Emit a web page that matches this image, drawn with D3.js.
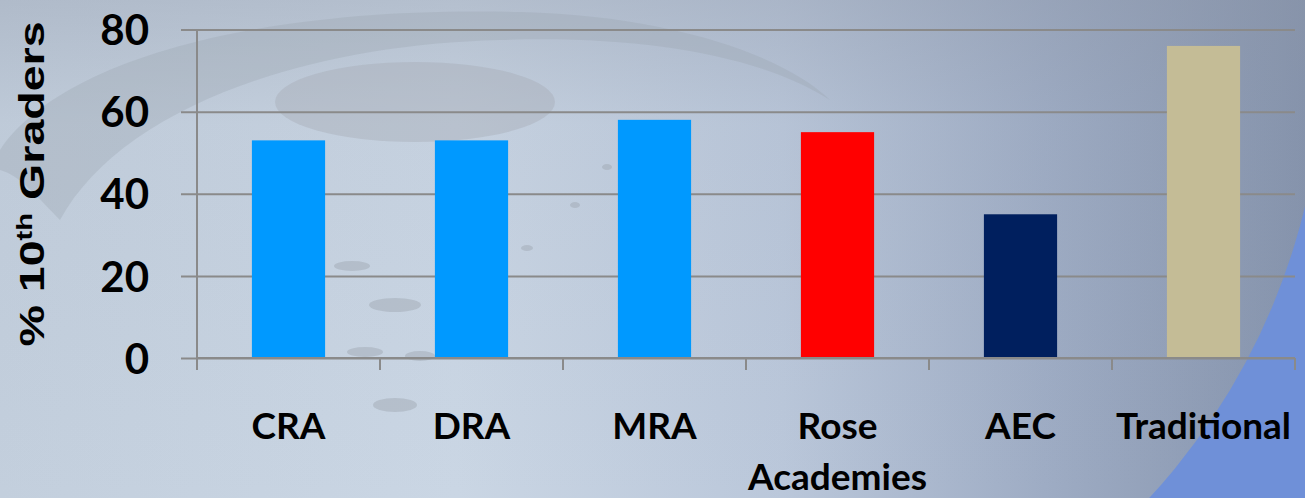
<!DOCTYPE html>
<html>
<head>
<meta charset="utf-8">
<script src="https://cdn.jsdelivr.net/npm/d3@7"></script>
<style>
  html, body { margin: 0; padding: 0; background: #c4cfdd; }
  svg { display: block; }
</style>
</head>
<body>
<div id="chart"></div>
<script>
// ---- data ----
const categories = ["CRA", "DRA", "MRA", "Rose Academies", "AEC", "Traditional"];
const values = [53, 53, 58, 55, 35, 76];
const barColors = ["#0099ff", "#0099ff", "#0099ff", "#ff0000", "#001f5e", "#c4bc96"];
const yTicks = [0, 20, 40, 60, 80];
const yTitle = ["% 10", "th", " Graders"];

// ---- layout ----
const W = 1305, H = 498;
const plot = { left: 197, right: 1295, top: 29.5, bottom: 358 };

const svg = d3.select("#chart").append("svg")
  .attr("width", W).attr("height", H);

// background
const defs = svg.append("defs");
const g1 = defs.append("linearGradient").attr("id", "bg").attr("x1", "0").attr("x2", "1").attr("y1", "0").attr("y2", "0");
[["0%", "#c3cfdd"], ["35%", "#cad6e4"], ["60%", "#bac7da"], ["80%", "#9eacc4"], ["100%", "#8593ac"]]
  .forEach(([o, c]) => g1.append("stop").attr("offset", o).attr("stop-color", c));
const g2 = defs.append("linearGradient").attr("id", "topshade").attr("x1", "0").attr("x2", "0").attr("y1", "0").attr("y2", "1");
[["0%", "#8c95a6", 0.35], ["25%", "#8c95a6", 0.08], ["100%", "#8c95a6", 0]]
  .forEach(([o, c, a]) => g2.append("stop").attr("offset", o).attr("stop-color", c).attr("stop-opacity", a));
defs.append("clipPath").attr("id", "brclip").append("rect")
  .attr("x", 1000).attr("y", 150).attr("width", 305).attr("height", 348);

svg.append("rect").attr("width", W).attr("height", H).attr("fill", "url(#bg)");
svg.append("rect").attr("width", W).attr("height", H).attr("fill", "url(#topshade)");
// blue region outside the slide's large circle (bottom right)
const cx0 = 669, cy0 = 54, r0 = 654;
svg.append("path")
  .attr("clip-path", "url(#brclip)")
  .attr("fill-rule", "evenodd")
  .attr("fill", "#6f90d8")
  .attr("d", `M0,0H${W}V${H}H0Z M${cx0 - r0},${cy0} a${r0},${r0} 0 1,0 ${2 * r0},0 a${r0},${r0} 0 1,0 ${-2 * r0},0Z`);

// faint decorative shapes of the slide background
const deco = svg.append("g");
deco.append("path")
  .attr("d", "M0,150 C60,60 260,5 520,12 C680,16 790,60 830,100 C760,55 640,35 500,40 C300,45 120,110 60,220 C40,200 20,175 0,170 Z")
  .attr("fill", "#98a1ad").attr("opacity", 0.3);
deco.append("ellipse").attr("cx", 415).attr("cy", 102).attr("rx", 140).attr("ry", 40)
  .attr("fill", "#a4abb4").attr("opacity", 0.4);
[[352, 266, 18, 5], [395, 305, 26, 7], [365, 352, 18, 5], [420, 356, 15, 5], [395, 405, 22, 7], [527, 248, 6, 3], [575, 205, 5, 3], [607, 167, 5, 3]]
  .forEach(([cx, cy, rx, ry]) => deco.append("ellipse").attr("cx", cx).attr("cy", cy).attr("rx", rx).attr("ry", ry)
    .attr("fill", "#98a0aa").attr("opacity", 0.4));

// ---- scales ----
const x = d3.scaleBand().domain(categories).range([plot.left, plot.right])
  .paddingInner(0.6).paddingOuter(0.3);
const y = d3.scaleLinear().domain([0, 80]).range([plot.bottom, plot.top]);

// ---- y axis with gridlines ----
const gridLeft = 181;
const yAxis = d3.axisLeft(y).tickValues(yTicks)
  .tickSize(plot.right - gridLeft).tickPadding(32);
const ga = svg.append("g").attr("transform", `translate(${plot.right},0)`).call(yAxis);
ga.select(".domain").remove();
ga.selectAll(".tick line").attr("stroke", "#8a8a8a").attr("stroke-width", 2);
ga.selectAll(".tick text")
  .attr("fill", "#000").attr("font-family", "Lato, 'Open Sans', sans-serif")
  .attr("font-weight", "bold").attr("font-size", 42).attr("dy", "0.36em");

// y axis line
svg.append("line").attr("x1", plot.left).attr("x2", plot.left)
  .attr("y1", y(80)).attr("y2", y(0)).attr("stroke", "#8a8a8a").attr("stroke-width", 2);

// ---- bars ----
svg.append("g").selectAll("rect").data(categories).join("rect")
  .attr("x", d => x(d))
  .attr("width", x.bandwidth())
  .attr("y", (d, i) => y(values[i]))
  .attr("height", (d, i) => y(0) - y(values[i]))
  .attr("fill", (d, i) => barColors[i]);

// x axis line
svg.append("line").attr("x1", plot.left).attr("x2", plot.right)
  .attr("y1", y(0)).attr("y2", y(0)).attr("stroke", "#8a8a8a").attr("stroke-width", 2);

// category boundary ticks
const bounds = d3.range(categories.length + 1).map(i => plot.left + i * x.step());
svg.append("g").selectAll("line").data(bounds).join("line")
  .attr("x1", d => d).attr("x2", d => d)
  .attr("y1", y(0)).attr("y2", y(0) + 12)
  .attr("stroke", "#8a8a8a").attr("stroke-width", 2);

// category labels
const lab = svg.append("g").selectAll("text").data(categories).join("text")
  .attr("x", d => x(d) + x.bandwidth() / 2)
  .attr("y", 439)
  .attr("text-anchor", "middle")
  .attr("font-family", "Lato, 'Open Sans', sans-serif")
  .attr("font-weight", "bold").attr("font-size", 37).attr("fill", "#000");
lab.each(function (d) {
  const t = d3.select(this);
  d.split(" ").forEach((w, i) => {
    t.append("tspan").attr("x", x(d) + x.bandwidth() / 2).attr("dy", i === 0 ? 0 : 51).text(w);
  });
});

// y title
const tt = svg.append("text")
  .attr("transform", "translate(44,184) rotate(-90) scale(1.33,1)")
  .attr("text-anchor", "middle")
  .attr("font-family", "'Liberation Sans', Arial, sans-serif")
  .attr("font-weight", "bold").attr("font-size", 35).attr("fill", "#000");
tt.append("tspan").text(yTitle[0]);
tt.append("tspan").attr("font-size", 22).attr("baseline-shift", "55%").text(yTitle[1]);
tt.append("tspan").text(yTitle[2]);
</script>
</body>
</html>
